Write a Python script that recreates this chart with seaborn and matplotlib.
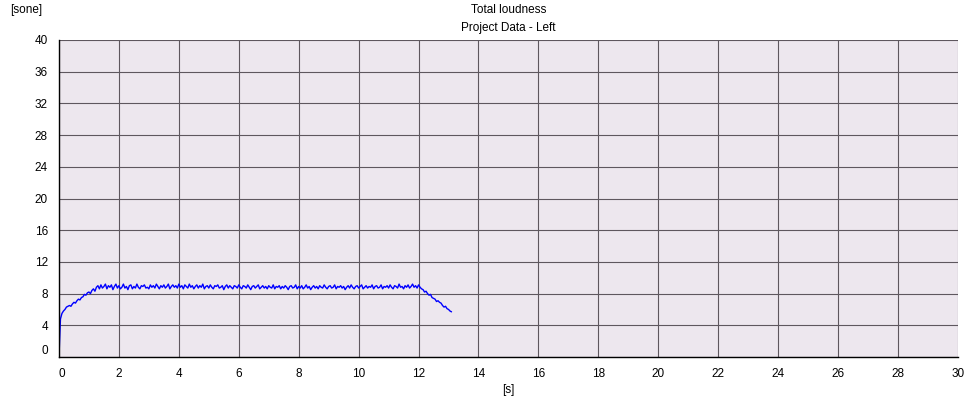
import numpy as np
import pandas as pd
import matplotlib
matplotlib.use('Agg')
import matplotlib.pyplot as plt
import seaborn as sns

# ── Data (one row per second, 0.05 s step) ──────────────────────────────────
dt = 0.05
loudness = [
    0.0, 4.8, 5.5, 5.8, 6.0, 6.3, 6.4, 6.5, 6.4, 6.7, 6.9, 6.8, 7.1, 7.3, 7.2, 7.5, 7.6, 7.9, 7.8, 8.1,
    8.2, 8.0, 8.4, 8.6, 8.3, 8.8, 9.0, 8.6, 9.1, 8.7, 8.9, 9.2, 8.6, 9.0, 8.8, 9.1, 8.5, 8.9, 9.2, 8.7,
    9.0, 8.6, 8.8, 9.2, 8.7, 8.9, 8.5, 9.0, 9.1, 8.6, 8.9, 8.7, 9.2, 8.8, 8.6, 9.0, 8.9, 9.1, 8.7, 8.8,
    8.6, 9.1, 8.8, 9.0, 8.7, 9.2, 8.9, 8.6, 9.0, 8.8, 9.1, 8.7, 8.9, 9.2, 8.6, 8.9, 9.1, 8.8, 9.0, 8.7,
    9.2, 8.8, 9.0, 8.6, 9.1, 8.9, 8.7, 9.2, 8.8, 9.0, 8.6, 8.9, 9.1, 8.7, 9.0, 8.8, 9.2, 8.6, 8.9, 9.0,
    8.7, 9.1, 8.8, 8.6, 9.0, 8.9, 9.1, 8.7, 8.8, 9.0, 8.5, 8.9, 9.1, 8.7, 9.0, 8.8, 8.6, 9.0, 8.9, 8.7,
    9.1, 8.8, 8.6, 9.0, 8.9, 8.7, 9.1, 8.8, 8.5, 8.9, 9.0, 8.7, 8.9, 9.1, 8.6, 8.8, 9.0, 8.7, 8.9, 8.6,
    9.0, 8.8, 8.7, 9.1, 8.6, 8.9, 8.8, 9.0, 8.6, 8.9, 8.7, 9.0, 8.8, 8.5, 8.9, 9.0, 8.7, 8.8, 9.1, 8.6,
    8.9, 8.7, 9.0, 8.6, 8.8, 9.1, 8.7, 8.9, 8.5, 8.8, 9.0, 8.7, 8.9, 8.6, 9.0, 8.8, 8.7, 9.1, 8.8, 8.6,
    8.9, 9.0, 8.7, 8.8, 9.1, 8.6, 8.9, 8.8, 9.0, 8.7, 8.9, 8.5, 8.8, 9.0, 8.7, 9.1, 8.8, 8.6, 8.9, 9.0,
    8.7, 8.9, 9.1, 8.6, 8.8, 9.0, 8.7, 8.9, 8.8, 9.1, 8.6, 8.9, 9.0, 8.7, 8.8, 9.1, 8.6, 8.9, 8.8, 9.0,
    8.7, 9.1, 8.8, 8.6, 9.0, 8.9, 8.7, 9.2, 8.8, 8.9, 8.6, 9.0, 8.8, 9.1, 8.7, 8.9, 9.2, 8.8, 9.0, 8.7,
    9.1, 8.8, 8.6, 8.5, 8.2, 8.3, 8.0, 7.8, 7.9, 7.5, 7.4, 7.3, 7.0, 7.1, 6.9, 6.8, 6.5, 6.3, 6.4, 6.1,
    6.0, 5.8, 5.7,
]
x_ticks = list(range(0, 31, 2))
y_ticks = list(range(0, 41, 4))

df = pd.DataFrame({'time': np.arange(len(loudness)) * dt, 'sone': loudness})

# ── Style ─────────────────────────────────────────────────────────────────────
sns.set_style('white')
plt.rcParams['font.family'] = ['Liberation Sans', 'DejaVu Sans']
plt.rcParams['text.color'] = 'black'
plt.rcParams['axes.labelcolor'] = 'black'
plt.rcParams['xtick.color'] = 'black'
plt.rcParams['ytick.color'] = 'black'

fig = plt.figure(figsize=(9.65, 4.0), dpi=100)
ax = fig.add_axes([0.0611, 0.1075, 0.9316, 0.7925])
ax.set_facecolor('#EDE7EE')

sns.lineplot(data=df, x='time', y='sone', color='#0000FF', linewidth=1.0, ax=ax)

ax.set_xlim(0, 30)
ax.set_ylim(0, 40)
ax.set_xticks(x_ticks)
ax.set_yticks(y_ticks)
ax.grid(True, color='#5E575E', linewidth=0.8)
ax.set_axisbelow(True)
for side in ['top', 'right']:
    ax.spines[side].set_visible(False)
for side in ['left', 'bottom']:
    ax.spines[side].set_color('black')
    ax.spines[side].set_linewidth(1.0)
ax.tick_params(axis='both', direction='out', length=5, width=1.0, color='black',
               labelcolor='black', labelsize=8.5, pad=3)
ax.set_xlabel('[s]', fontsize=8.5, labelpad=3, color='black')
ax.set_ylabel('')

# the zero labels sit a bit off their ticks in the reference
ax.get_yticklabels()[0].set_verticalalignment('bottom')
ax.get_xticklabels()[0].set_horizontalalignment('left')

fig.text(0.011, 0.975, '[sone]', fontsize=8.5, ha='left', va='center')
fig.text(0.527, 0.975, 'Total loudness', fontsize=8.5, ha='center', va='center')
fig.text(0.527, 0.93, 'Project Data - Left', fontsize=8.5, ha='center', va='center')

fig.savefig('out.png', dpi=100)
